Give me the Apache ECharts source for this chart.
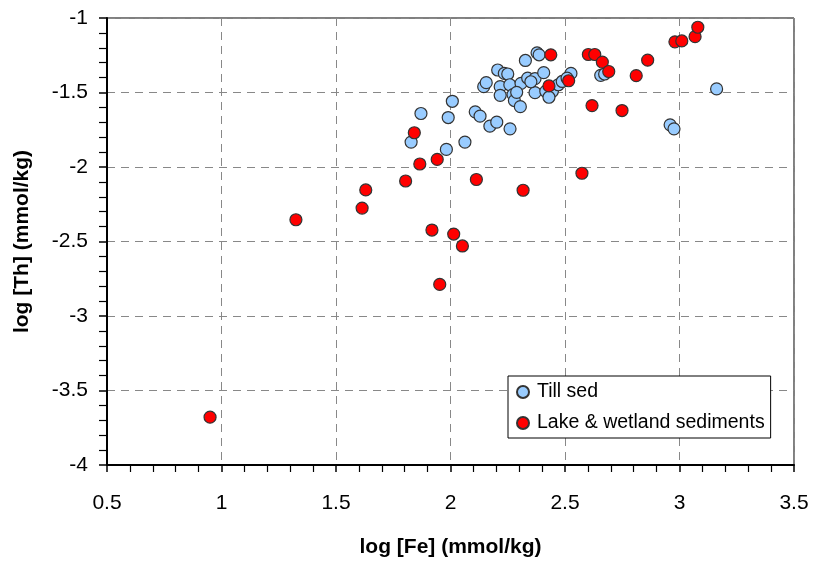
<!DOCTYPE html>
<html>
<head>
<meta charset="utf-8">
<script src="https://cdn.jsdelivr.net/npm/echarts@6/dist/echarts.min.js"></script>
<style>
  html, body { margin: 0; padding: 0; background: #fff; }
  #chart { width: 814px; height: 563px; }
</style>
</head>
<body>
<div id="chart"></div>
<script>
// log [Fe], log [Th] pairs
const tillSed = [
  [1.828, -1.833], [1.871, -1.641], [1.982, -1.882], [1.990, -1.668], [2.008, -1.559],
  [2.063, -1.833], [2.108, -1.630], [2.129, -1.659], [2.172, -1.726], [2.202, -1.699],
  [2.260, -1.744], [2.145, -1.461], [2.156, -1.434], [2.206, -1.349], [2.235, -1.372],
  [2.250, -1.376], [2.217, -1.461], [2.217, -1.519], [2.259, -1.448], [2.273, -1.514],
  [2.279, -1.554], [2.305, -1.595], [2.308, -1.439], [2.337, -1.403], [2.369, -1.407],
  [2.407, -1.367], [2.369, -1.501], [2.416, -1.492], [2.445, -1.492], [2.430, -1.532],
  [2.471, -1.448], [2.488, -1.426], [2.526, -1.372], [2.509, -1.403], [2.327, -1.285],
  [2.378, -1.234], [2.387, -1.247], [2.656, -1.385], [2.673, -1.376], [3.162, -1.476],
  [2.959, -1.717], [2.976, -1.744], [2.289, -1.499], [2.351, -1.428]
]
const lakeWetland = [
  [0.950, -3.679], [1.325, -2.354], [1.614, -2.276], [1.630, -2.154], [1.804, -2.094],
  [1.842, -1.770], [1.866, -1.980], [1.942, -1.949], [1.919, -2.423], [2.014, -2.450],
  [2.052, -2.530], [1.953, -2.788], [2.113, -2.084], [2.317, -2.156], [2.574, -2.042],
  [2.438, -1.247], [2.430, -1.456], [2.516, -1.421], [2.618, -1.588], [2.602, -1.245],
  [2.630, -1.245], [2.663, -1.296], [2.691, -1.359], [2.749, -1.621], [2.811, -1.387],
  [2.861, -1.283], [2.980, -1.160], [3.010, -1.154], [3.068, -1.125], [3.080, -1.062]
]
const seriesNames = ['Till sed', 'Lake & wetland sediments']
const seriesColors = ['#99CCFF', '#FF0000']

const fontFamily = 'Liberation Sans, Arial, sans-serif'

let myChart = echarts.init(document.getElementById('chart'), null, { renderer: 'canvas' })

let option = {
  animation: false,
  backgroundColor: '#fff',
  grid: {
    left: 107,
    right: 20,
    top: 18,
    bottom: 96,
    show: true,
    borderColor: '#000',
    borderWidth: 1,
  },
  legend: {
    orient: 'vertical',
    left: 508,
    top: 376,
    padding: [6, 6, 5, 8],
    itemGap: 11,
    itemWidth: 12,
    itemHeight: 12,
    borderColor: '#000',
    borderWidth: 1,
    backgroundColor: '#fff',
    textStyle: { fontFamily: fontFamily, fontSize: 19.5, color: '#000', padding: [0, 0, 0, 3] },
    data: seriesNames.map(function (n) { return { name: n, icon: 'circle' } }),
  },
  xAxis: {
    type: 'value',
    min: 0.5,
    max: 3.5,
    interval: 0.5,
    name: 'log [Fe] (mmol/kg)',
    nameLocation: 'middle',
    nameGap: 72,
    nameTextStyle: { fontFamily: fontFamily, fontSize: 21, fontWeight: 'bold', color: '#000' },
    axisLine: { show: true, onZero: false, lineStyle: { color: '#000', width: 2 } },
    axisTick: { show: true, length: 7, lineStyle: { color: '#000', width: 1.5 } },
    minorTick: { show: true, splitNumber: 5, length: 7, lineStyle: { color: '#000', width: 1.2 } },
    axisLabel: {
      margin: 28,
      fontFamily: fontFamily,
      fontSize: 21,
      color: '#000',
      formatter: function (v) { return String(v) },
    },
    splitLine: { show: true, lineStyle: { color: '#888', type: [8, 6], width: 1 } },
  },
  yAxis: {
    type: 'value',
    min: -4,
    max: -1,
    interval: 0.5,
    name: 'log [Th] (mmol/kg)',
    nameLocation: 'middle',
    nameGap: 74,
    nameTextStyle: { fontFamily: fontFamily, fontSize: 21, fontWeight: 'bold', color: '#000' },
    axisLine: { show: true, onZero: false, lineStyle: { color: '#000', width: 2 } },
    axisTick: { show: true, length: 8, lineStyle: { color: '#000', width: 1.5 } },
    minorTick: { show: true, splitNumber: 5, length: 8, lineStyle: { color: '#000', width: 1.2 } },
    axisLabel: {
      margin: 19,
      fontFamily: fontFamily,
      fontSize: 21,
      color: '#000',
      formatter: function (v) { return String(v) },
    },
    splitLine: { show: true, lineStyle: { color: '#888', type: [8, 6], width: 1 } },
  },
  series: [
    {
      name: seriesNames[0],
      type: 'scatter',
      data: tillSed,
      symbolSize: 12,
      itemStyle: { color: seriesColors[0], borderColor: '#333', borderWidth: 1.2, opacity: 1 },
    },
    {
      name: seriesNames[1],
      type: 'scatter',
      data: lakeWetland,
      symbolSize: 12,
      itemStyle: { color: seriesColors[1], borderColor: '#333', borderWidth: 1.2, opacity: 1 },
    },
  ],
}

myChart.setOption(option)
</script>
</body>
</html>
